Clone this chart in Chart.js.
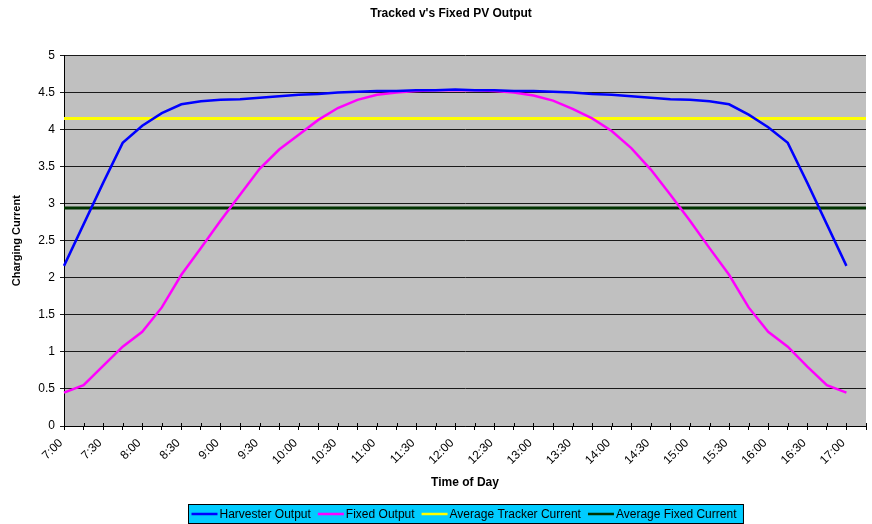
<!DOCTYPE html>
<html>
<head>
<meta charset="utf-8">
<script src="https://cdn.jsdelivr.net/npm/chart.js@4.4.1/dist/chart.umd.min.js"></script>
<style>
html,body{margin:0;padding:0;background:#ffffff;}
#wrap{width:872px;height:524px;}
</style>
</head>
<body>
<div id="wrap"><canvas id="c" width="872" height="524"></canvas></div>
<script>
// ---- Data ----
const categories = ["7:00","7:15","7:30","7:45","8:00","8:15","8:30","8:45","9:00","9:15",
  "9:30","9:45","10:00","10:15","10:30","10:45","11:00","11:15","11:30","11:45",
  "12:00","12:15","12:30","12:45","13:00","13:15","13:30","13:45","14:00","14:15",
  "14:30","14:45","15:00","15:15","15:30","15:45","16:00","16:15","16:30","16:45",
  "17:00","17:15"];
const harvesterOutput = [2.16,2.72,3.28,3.82,4.05,4.22,4.34,4.38,4.40,4.41,
  4.43,4.45,4.47,4.48,4.50,4.51,4.52,4.52,4.53,4.53,
  4.54,4.53,4.53,4.52,4.52,4.51,4.50,4.48,4.47,4.45,
  4.43,4.41,4.40,4.38,4.34,4.20,4.03,3.82,3.28,2.72,
  2.16,null];
const fixedOutput = [0.45,0.55,0.81,1.07,1.27,1.60,2.04,2.40,2.77,3.12,
  3.47,3.73,3.93,4.13,4.29,4.40,4.47,4.50,4.52,4.53,
  4.53,4.53,4.52,4.50,4.46,4.39,4.28,4.15,3.98,3.75,
  3.46,3.12,2.77,2.40,2.04,1.60,1.27,1.07,0.80,0.55,
  0.45,null];
const averageTrackerValue = 4.15;
const averageFixedValue = 2.94;
const averageTrackerCurrent = categories.map(() => averageTrackerValue);
const averageFixedCurrent = categories.map(() => averageFixedValue);
const seriesLabels = ["Harvester Output","Fixed Output","Average Tracker Current","Average Fixed Current"];
const yTickValues = [0,0.5,1,1.5,2,2.5,3,3.5,4,4.5,5];

const FONT = 'Arial, "Liberation Sans", sans-serif';
Chart.defaults.font.family = FONT;
Chart.defaults.color = '#000000';

const plotBg = {
  id: 'plotBg',
  beforeDraw(chart) {
    const {ctx, chartArea: a} = chart;
    ctx.save();
    ctx.fillStyle = '#C0C0C0';
    ctx.fillRect(a.left, a.top, a.right - a.left, a.bottom - a.top);
    ctx.restore();
  }
};

const titleShift = {
  id: 'titleShift',
  afterLayout(chart) {
    const t = chart.titleBlock;
    if (t) { t.left = 30; t.right = 872; t.width = 842; }
  }
};

const innerTicks = {
  id: 'innerTicks',
  afterDatasetsDraw(chart) {
    const {ctx, chartArea: a} = chart;
    const xs = chart.scales.x;
    ctx.save();
    ctx.strokeStyle = '#000000';
    ctx.lineWidth = 1;
    ctx.beginPath();
    for (let i = 0; i < xs.ticks.length; i++) {
      const px = Math.round(xs.getPixelForTick(i)) + 0.5;
      ctx.moveTo(px, a.bottom - 3);
      ctx.lineTo(px, a.bottom);
    }
    ctx.stroke();
    ctx.restore();
  }
};

const boxLegend = {
  id: 'boxLegend',
  afterDraw(chart) {
    const {ctx, chartArea: a} = chart;
    const ds = chart.data.datasets;
    ctx.save();
    ctx.font = '12px ' + FONT;
    const lineW = 26, g1 = 2, g2 = 7, padL = 3, padR = 7;
    let total = padL + padR;
    ds.forEach((d, i) => {
      total += lineW + g1 + ctx.measureText(d.label).width + (i < ds.length - 1 ? g2 : 0);
    });
    const cx = (a.left + a.right) / 2;
    const left = Math.round(cx - total / 2) + 0.5;
    const top = 504.5, h = 19;
    ctx.fillStyle = '#00CCFF';
    ctx.fillRect(left, top, total, h);
    ctx.strokeStyle = '#000000';
    ctx.lineWidth = 1;
    ctx.strokeRect(left, top, total, h);
    const cy = top + h / 2;
    let x = left + padL;
    ds.forEach((d, i) => {
      ctx.strokeStyle = d.borderColor;
      ctx.lineWidth = 2.5;
      ctx.beginPath();
      ctx.moveTo(x, cy);
      ctx.lineTo(x + lineW, cy);
      ctx.stroke();
      x += lineW + g1;
      ctx.fillStyle = '#000000';
      ctx.textAlign = 'left';
      ctx.textBaseline = 'middle';
      ctx.fillText(d.label, x, cy + 0.5);
      x += ctx.measureText(d.label).width + g2;
    });
    ctx.restore();
  }
};

new Chart(document.getElementById('c'), {
  type: 'line',
  data: {
    labels: categories,
    datasets: [
      {label: seriesLabels[0], data: harvesterOutput, borderColor: '#0000FF', borderWidth: 2.5, pointRadius: 0, tension: 0, fill: false, spanGaps: false},
      {label: seriesLabels[1], data: fixedOutput, borderColor: '#FF00FF', borderWidth: 2.5, pointRadius: 0, tension: 0, fill: false, spanGaps: false},
      {label: seriesLabels[2], data: averageTrackerCurrent, borderColor: '#FFFF00', borderWidth: 3, pointRadius: 0, tension: 0, fill: false},
      {label: seriesLabels[3], data: averageFixedCurrent, borderColor: '#003300', borderWidth: 3, pointRadius: 0, tension: 0, fill: false}
    ]
  },
  options: {
    responsive: false,
    animation: false,
    devicePixelRatio: 1,
    layout: {padding: {left: 0, right: 6, top: 0, bottom: 30}},
    plugins: {
      legend: {display: false},
      tooltip: {enabled: false},
      title: {
        display: true,
        text: "Tracked v's Fixed PV Output",
        font: {size: 12, weight: 'bold', family: FONT},
        color: '#000000',
        padding: {top: 6, bottom: 35}
      }
    },
    scales: {
      x: {
        type: 'category',
        offset: false,
        grid: {display: true, drawOnChartArea: false, drawTicks: true, tickLength: 4, color: '#000000', lineWidth: 1},
        border: {display: true, color: '#000000', width: 1},
        ticks: {
          autoSkip: false,
          maxRotation: 45,
          minRotation: 45,
          padding: 6,
          labelOffset: -3,
          font: {size: 12, family: FONT},
          color: '#000000',
          callback: function(v, i) { return i % 2 === 0 ? categories[i] : ''; }
        },
        title: {display: true, text: 'Time of Day', font: {size: 12, weight: 'bold', family: FONT}, color: '#000000', padding: {top: 0, bottom: 4}},
        afterFit(s) { s.height = 68; s.paddingRight = 0; s.paddingLeft = 0; }
      },
      y: {
        min: 0,
        max: 5,
        afterBuildTicks(s) { s.ticks = yTickValues.map(v => ({value: v})); },
        grid: {display: true, drawOnChartArea: true, drawTicks: true, tickLength: 4, color: '#1a1a1a', lineWidth: 1},
        border: {display: true, color: '#000000', width: 1},
        ticks: {padding: 5, font: {size: 12, family: FONT}, color: '#000000', callback: v => String(v)},
        title: {display: true, text: 'Charging Current', font: {size: 11, weight: 'bold', family: FONT}, color: '#000000', padding: {top: 10, bottom: 0}},
        afterFit(s) { s.width = 64; }
      }
    }
  },
  plugins: [plotBg, titleShift, innerTicks, boxLegend]
});
</script>
</body>
</html>
